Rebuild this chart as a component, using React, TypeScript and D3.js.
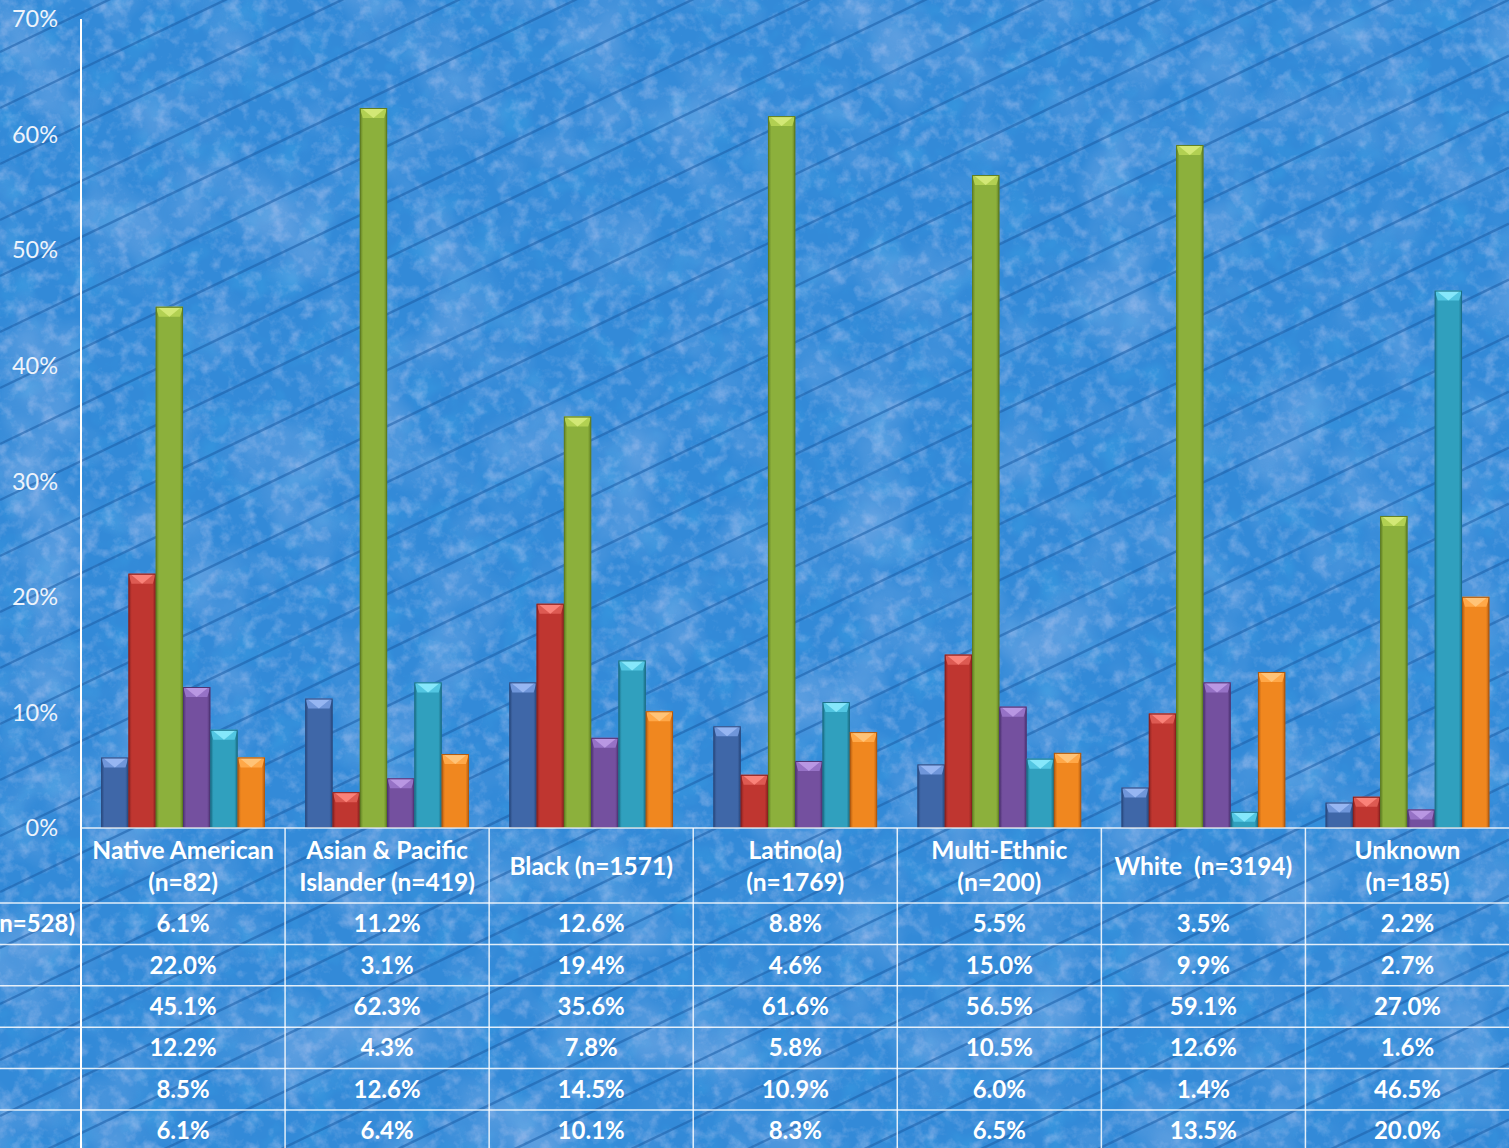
import React from "react";
import * as d3 from "d3";

// Category headers (one entry per printed line)
const categoryLines: string[][] = [
  ["Native American", "(n=82)"],
  ["Asian & Pacific", "Islander (n=419)"],
  ["Black (n=1571)"],
  ["Latino(a)", "(n=1769)"],
  ["Multi-Ethnic", "(n=200)"],
  ["White  (n=3194)"],
  ["Unknown", "(n=185)"],
];

// Percentages per series, in category order
const series1 = [6.1, 11.2, 12.6, 8.8, 5.5, 3.5, 2.2];
const series2 = [22.0, 3.1, 19.4, 4.6, 15.0, 9.9, 2.7];
const series3 = [45.1, 62.3, 35.6, 61.6, 56.5, 59.1, 27.0];
const series4 = [12.2, 4.3, 7.8, 5.8, 10.5, 12.6, 1.6];
const series5 = [8.5, 12.6, 14.5, 10.9, 6.0, 1.4, 46.5];
const series6 = [6.1, 6.4, 10.1, 8.3, 6.5, 13.5, 20.0];

const rowLabels = ["n=528)", "", "", "", "", ""];
const yTicks = [0, 10, 20, 30, 40, 50, 60, 70];

const seriesList = [series1, series2, series3, series4, series5, series6];

const palette = [
  { base: "#3f67a8", dark: "#2a4a80", light: "#6f96da", tip: "#9dbcf6" },
  { base: "#bf3630", dark: "#8a2220", light: "#dd5a52", tip: "#ff8a80" },
  { base: "#8cb03c", dark: "#5f7d22", light: "#b2d052", tip: "#d8ec7c" },
  { base: "#74509f", dark: "#4f3474", light: "#9672c6", tip: "#bf9ee8" },
  { base: "#30a0be", dark: "#1c7088", light: "#52c6e2", tip: "#8eecff" },
  { base: "#f0871f", dark: "#b05a10", light: "#ffa848", tip: "#ffc880" },
];

const W = 1509;
const H = 1148;
const axisX = 81;
const y0 = 828;
const yTop = 19;
const headerBottom = 903;
const rowH = 41.4;
const FONT = "Lato, 'Open Sans', sans-serif";

export default function App() {
  const x = d3
    .scaleBand<number>()
    .domain(d3.range(categoryLines.length))
    .range([axisX, W + 0.5])
    .paddingInner(0)
    .paddingOuter(0);

  const xInner = d3
    .scaleBand<number>()
    .domain(d3.range(seriesList.length))
    .range([0, x.bandwidth()])
    .paddingInner(0)
    .paddingOuter(0.74);

  const y = d3.scaleLinear().domain([0, 70]).range([y0, yTop]);

  // Diagonal streaks of the background texture
  const streakOffsets = d3.range(-40, 60).map((k) => 668 + 56 * k);
  const slope = -0.48;

  const bevel = 10;

  return (
    <svg
      width={W}
      height={H}
      style={{ position: "absolute", left: 0, top: 0, display: "block" }}
      xmlns="http://www.w3.org/2000/svg"
    >
      <defs>
        <filter id="mottle" x="0" y="0" width="100%" height="100%">
          <feTurbulence type="fractalNoise" baseFrequency="0.07" numOctaves="4" seed="7" />
          <feColorMatrix
            type="matrix"
            values="0 0 0 0 0.64  0 0 0 0 0.66  0 0 0 0 0.92  2.6 0 0 0 -1.2"
          />
        </filter>
        <filter id="blotch" x="0" y="0" width="100%" height="100%">
          <feTurbulence type="fractalNoise" baseFrequency="0.012" numOctaves="3" seed="41" />
          <feColorMatrix
            type="matrix"
            values="0 0 0 0 0.6  0 0 0 0 0.66  0 0 0 0 0.92  0 0 2.4 0 -1.1"
          />
        </filter>
        <filter id="mottleDark" x="0" y="0" width="100%" height="100%">
          <feTurbulence type="fractalNoise" baseFrequency="0.03" numOctaves="3" seed="19" />
          <feColorMatrix
            type="matrix"
            values="0 0 0 0 0.05  0 0 0 0 0.45  0 0 0 0 0.85  0 -2.4 0 0 1.2"
          />
        </filter>
        {palette.map((p, i) => (
          <linearGradient key={i} id={`body${i}`} x1="0" x2="1" y1="0" y2="0">
            <stop offset="0" stopColor={p.dark} />
            <stop offset="0.12" stopColor={p.base} />
            <stop offset="0.5" stopColor={p.base} />
            <stop offset="0.88" stopColor={p.base} />
            <stop offset="1" stopColor={p.dark} />
          </linearGradient>
        ))}
      </defs>

      {/* background */}
      <rect x={0} y={0} width={W} height={H} fill="#338ad8" />
      <rect x={0} y={0} width={W} height={H} filter="url(#mottleDark)" opacity={0.3} />
      <rect x={0} y={0} width={W} height={H} filter="url(#blotch)" opacity={0.3} />
      <rect x={0} y={0} width={W} height={H} filter="url(#mottle)" opacity={0.35} />
      <g stroke="#1c5ca6" strokeOpacity={0.55} strokeWidth={2.4} fill="none">
        {streakOffsets.map((c, i) => (
          <line key={i} x1={0} y1={c} x2={W} y2={c + slope * W} />
        ))}
      </g>

      {/* y axis labels */}
      <g fontFamily={FONT} fontSize={23.5} fill="#eef3fb" textAnchor="end">
        {yTicks.map((t) => (
          <text key={t} x={58} y={y(t)} dy="0.35em">
            {t}%
          </text>
        ))}
      </g>

      {/* bars */}
      {seriesList.map((vals, si) => (
        <g key={si}>
          {vals.map((v, ci) => {
            const bx = (x(ci) as number) + (xInner(si) as number);
            const bw = xInner.bandwidth();
            const by = y(v);
            const bh = y0 - by;
            const b = Math.min(bevel, bh);
            const p = palette[si];
            return (
              <g key={ci}>
                <rect x={bx} y={by} width={bw} height={bh} fill={`url(#body${si})`} />
                <polygon
                  points={`${bx},${by} ${bx + bw},${by} ${bx + bw - 3},${by + b} ${bx + 3},${by + b}`}
                  fill={p.light}
                />
                <polygon
                  points={`${bx + 2},${by + 0.5} ${bx + bw - 2},${by + 0.5} ${bx + bw / 2},${by + b}`}
                  fill={p.tip}
                  opacity={0.85}
                />
                <rect
                  x={bx + 0.5}
                  y={by + 0.5}
                  width={bw - 1}
                  height={Math.max(0, bh - 1)}
                  fill="none"
                  stroke={p.dark}
                  strokeWidth={1}
                />
              </g>
            );
          })}
        </g>
      ))}

      {/* axis line */}
      <line x1={axisX} x2={axisX} y1={yTop} y2={H} stroke="#ffffff" strokeWidth={2} />

      {/* data table grid */}
      <g stroke="#ffffff" strokeOpacity={0.85} strokeWidth={1.5}>
        <line x1={axisX} x2={W} y1={y0} y2={y0} />
        {d3.range(seriesList.length).map((r) => (
          <line key={r} x1={0} x2={W} y1={headerBottom + r * rowH} y2={headerBottom + r * rowH} />
        ))}
        {d3.range(1, categoryLines.length).map((ci) => (
          <line key={ci} x1={x(ci) as number} x2={x(ci) as number} y1={y0} y2={H} />
        ))}
      </g>

      {/* category headers */}
      <g fontFamily={FONT} fontSize={24.5} fontWeight="bold" fill="#ffffff" textAnchor="middle">
        {categoryLines.map((lines, ci) => {
          const cx = (x(ci) as number) + x.bandwidth() / 2;
          const mid = (y0 + headerBottom) / 2 + 1;
          const lh = 32;
          return lines.map((ln, li) => (
            <text
              key={`${ci}-${li}`}
              x={cx}
              y={mid + (li - (lines.length - 1) / 2) * lh}
              dy="0.35em"
              style={{ whiteSpace: "pre" }}
            >
              {ln}
            </text>
          ));
        })}
      </g>

      {/* table values */}
      <g fontFamily={FONT} fontSize={24} fontWeight="bold" fill="#ffffff" textAnchor="middle">
        {seriesList.map((vals, si) =>
          vals.map((v, ci) => (
            <text
              key={`${si}-${ci}`}
              x={(x(ci) as number) + x.bandwidth() / 2}
              y={headerBottom + si * rowH + rowH / 2}
              dy="0.35em"
            >
              {v.toFixed(1)}%
            </text>
          ))
        )}
        {rowLabels.map((lab, si) => (
          <text
            key={`lab${si}`}
            x={75}
            y={headerBottom + si * rowH + rowH / 2}
            dy="0.35em"
            textAnchor="end"
          >
            {lab}
          </text>
        ))}
      </g>
    </svg>
  );
}
